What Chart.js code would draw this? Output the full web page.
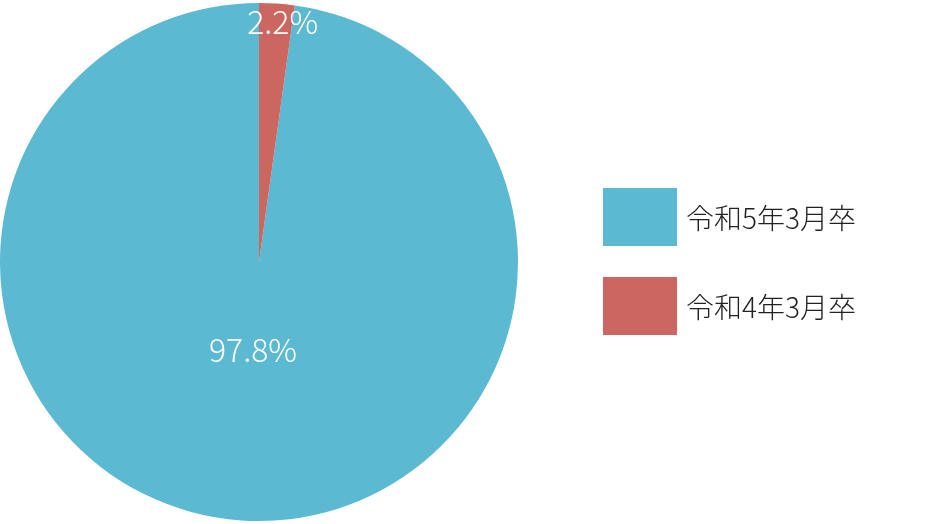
<!DOCTYPE html>
<html>
<head>
<meta charset="utf-8">
<script src="https://cdn.jsdelivr.net/npm/chart.js@4"></script>
<style>
  html, body { margin: 0; padding: 0; background: #fff; }
  #wrap { width: 940px; height: 524px; }
</style>
</head>
<body>
<div id="wrap"><canvas id="pieChart" width="940" height="524"></canvas></div>
<script>
// 卒業年別の割合
const labels = ['令和5年3月卒', '令和4年3月卒'];
const values = [97.8, 2.2];
const colors = ['#5bb9d1', '#cc6660'];

// スライス内のラベル（中心からの距離の割合）
const labelRadius = [0.34, 0.93];

const sliceLabels = {
    id: 'sliceLabels',
    afterDatasetsDraw(chart) {
        const ctx = chart.ctx;
        const arcs = chart.getDatasetMeta(0).data;
        ctx.save();
        ctx.fillStyle = '#ffffff';
        ctx.font = '300 32px "Noto Sans CJK JP", "Noto Sans", sans-serif';
        ctx.textAlign = 'center';
        ctx.textBaseline = 'middle';
        arcs.forEach((arc, i) => {
            const p = arc.getProps(['x', 'y', 'startAngle', 'endAngle', 'outerRadius']);
            const mid = (p.startAngle + p.endAngle) / 2;
            const r = p.outerRadius * labelRadius[i];
            const shift = i === 1 ? 7 : 0;
            ctx.fillText(values[i] + '%', p.x + Math.cos(mid) * r + shift, p.y + Math.sin(mid) * r);
        });
        ctx.restore();
    }
};

const sideLegend = {
    id: 'sideLegend',
    afterDraw(chart) {
        const ctx = chart.ctx;
        ctx.save();
        ctx.font = '300 28px "Noto Sans CJK JP", "Noto Sans", sans-serif';
        ctx.textBaseline = 'middle';
        labels.forEach((lab, i) => {
            const top = 188 + i * 89;
            ctx.fillStyle = colors[i];
            ctx.fillRect(603, top, 74, 58);
            ctx.fillStyle = '#222222';
            ctx.fillText(lab, 686, top + 30);
        });
        ctx.restore();
    }
};

const ctxPie = document.getElementById('pieChart').getContext('2d');
const pieChart = new Chart(ctxPie, {
    type: 'pie',
    data: {
        labels: labels,
        datasets: [{
            data: values,
            backgroundColor: colors,
            borderWidth: 0
        }]
    },
    options: {
        responsive: false,
        animation: false,
        rotation: values[1] / 100 * 360,
        layout: {
            padding: { left: 0, right: 422, top: 3, bottom: 3 }
        },
        plugins: {
            legend: { display: false },
            tooltip: { enabled: false }
        }
    },
    plugins: [sliceLabels, sideLegend]
});
</script>
</body>
</html>
